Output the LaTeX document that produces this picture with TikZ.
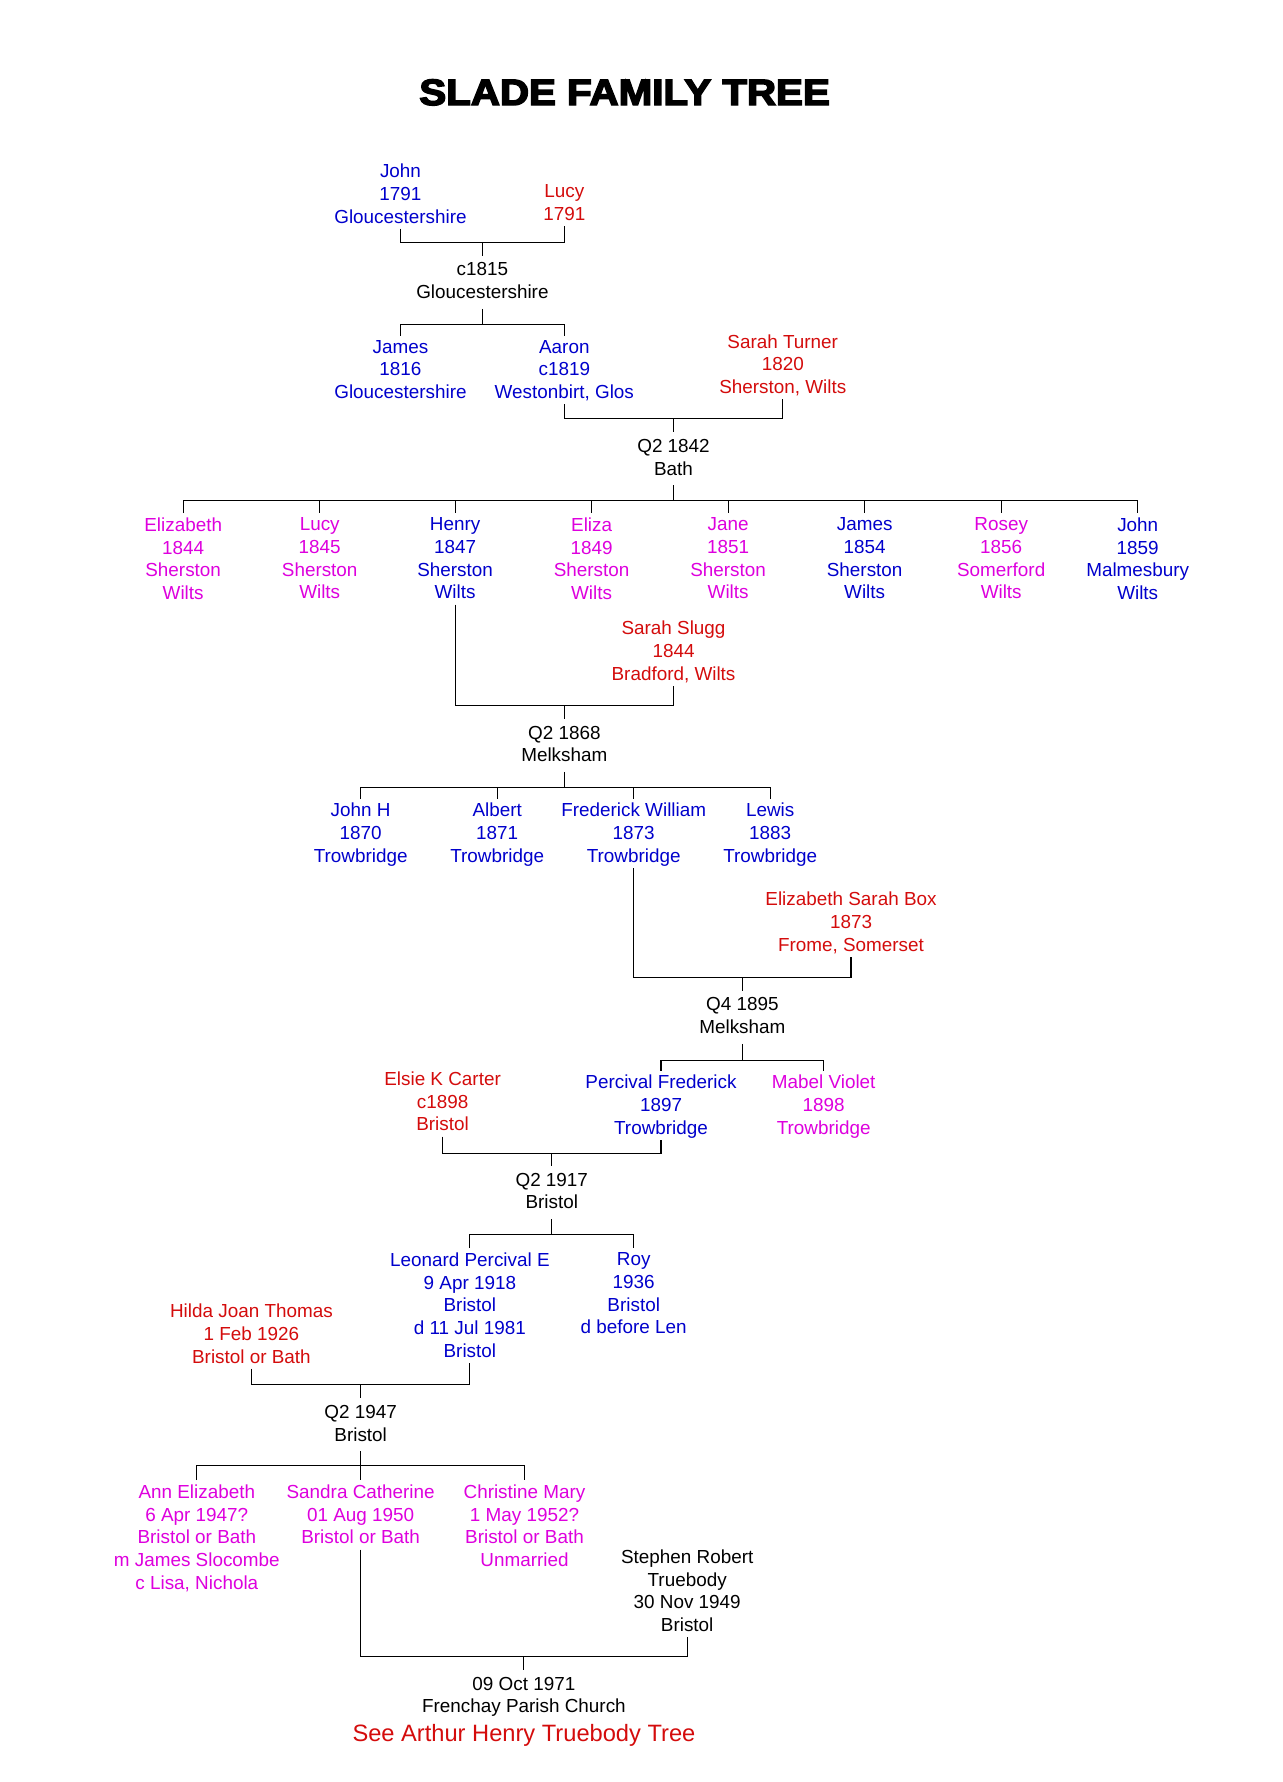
\documentclass[tikz,border=0pt]{standalone}
\usepackage{fontspec}
\setmainfont{Liberation Sans}
\newfontfamily\titlefam[FakeBold=4]{Liberation Sans Bold}
\definecolor{mblue}{RGB}{0,0,204}
\definecolor{fred}{RGB}{212,12,12}
\definecolor{fmag}{RGB}{222,0,222}
\newcommand{\txtfont}{\fontsize{8.3pt}{10pt}\selectfont}
\tikzset{
  person/.style={align=center, inner sep=0pt, outer sep=0pt, anchor=north, font=\txtfont,
    execute at begin node=\vphantom{l}, execute at end node=\vphantom{g}},
  male/.style={person, text=mblue},
  wife/.style={person, text=fred},
  daughter/.style={person, text=fmag},
  event/.style={person, text=black},
  link/.style={draw=black, line width=0.5pt},
  couple/.style={link, shorten <=0.75pt, shorten >=0.75pt},
  tochild/.style={link, shorten >=2pt},
  kids/.style={link, shorten <=2pt, shorten >=2pt},
  down/.style={link, shorten >=3pt},
  from/.style={link, shorten <=2.75pt},
}
\begin{document}
\begin{tikzpicture}[x=0.5pt, y=-0.5pt]
\fill[white] (0,0) rectangle (1127.7,1566.3);
\useasboundingbox (0,0) rectangle (1127.7,1566.3);

\node[anchor=base, inner sep=0pt, font=\titlefam\fontsize{16.1pt}{19pt}\selectfont] (title) at (549,92.3) {\scalebox{1.1}[1]{SLADE FAMILY TREE}};

% generation 1
\node[male] (john) at (352,144) {John\\1791\\Gloucestershire};
\node[wife] (lucy) at (496,162) {Lucy\\1791};
\coordinate (m1) at (424,213);
\draw[couple] (john.south) |- (m1) -| (lucy.south);
\node[event] (mar1) at (424,231) {c1815\\Gloucestershire};
\draw[down] (m1) -- (mar1.north);
\coordinate (k1) at (424,285);
\draw[from] (mar1.south) -- (k1);

% generation 2
\node[male] (james) at (352,299) {James\\1816\\Gloucestershire};
\node[male] (aaron) at (496,299) {Aaron\\c1819\\Westonbirt, Glos};
\draw[kids] (james.north) |- (k1) -| (aaron.north);
\node[wife] (sarahT) at (688,294) {Sarah Turner\\1820\\Sherston, Wilts};
\coordinate (m2) at (592,368);
\draw[couple] (aaron.south) |- (m2) -| (sarahT.south);
\node[event] (mar2) at (592,386) {Q2 1842\\Bath};
\draw[down] (m2) -- (mar2.north);
\coordinate (k2) at (592,440);
\draw[from] (mar2.south) -- (k2);

% generation 3
\node[daughter] (eliz) at (161,455) {Elizabeth\\1844\\Sherston\\Wilts};
\node[daughter] (lucyb) at (281,455) {Lucy\\1845\\Sherston\\Wilts};
\node[male] (henry) at (400,455) {Henry\\1847\\Sherston\\Wilts};
\node[daughter] (eliza) at (520,455) {Eliza\\1849\\Sherston\\Wilts};
\node[daughter] (jane) at (640,455) {Jane\\1851\\Sherston\\Wilts};
\node[male] (jamesb) at (760,455) {James\\1854\\Sherston\\Wilts};
\node[daughter] (rosey) at (880,455) {Rosey\\1856\\Somerford\\Wilts};
\node[male] (johnb) at (1000,455) {John\\1859\\Malmesbury\\Wilts};
\draw[kids] (eliz.north) |- (k2) -| (johnb.north);
\foreach \c in {lucyb,henry,eliza,jane,jamesb,rosey}
  \draw[tochild] (k2 -| \c.north) -- (\c.north);

\node[wife] (sarahS) at (592,546) {Sarah Slugg\\1844\\Bradford, Wilts};
\coordinate (m3) at (496,620);
\draw[couple] (henry.south) |- (m3) -| (sarahS.south);
\node[event] (mar3) at (496,638) {Q2 1868\\Melksham};
\draw[down] (m3) -- (mar3.north);
\coordinate (k3) at (496,692);
\draw[from] (mar3.south) -- (k3);

% generation 4
\node[male] (johnH) at (317,706) {John H\\1870\\Trowbridge};
\node[male] (albert) at (437,706) {Albert\\1871\\Trowbridge};
\node[male] (fred) at (557,706) {Frederick William\\1873\\Trowbridge};
\node[male] (lewis) at (677,706) {Lewis\\1883\\Trowbridge};
\draw[kids] (johnH.north) |- (k3) -| (lewis.north);
\foreach \c in {albert,fred}
  \draw[tochild] (k3 -| \c.north) -- (\c.north);

\node[wife] (esb) at (748,784) {Elizabeth Sarah Box\\1873\\Frome, Somerset};
\coordinate (m4) at (652.5,859);
\draw[couple] (fred.south) |- (m4) -| (esb.south);
\node[event] (mar4) at (652.5,877) {Q4 1895\\Melksham};
\draw[down] (m4) -- (mar4.north);
\coordinate (k4) at (652.5,932);
\draw[from] (mar4.south) -- (k4);

% generation 5
\node[male] (perc) at (581,945) {Percival Frederick\\1897\\Trowbridge};
\node[daughter] (mabel) at (724,945) {Mabel Violet\\1898\\Trowbridge};
\draw[kids] (perc.north) |- (k4) -| (mabel.north);
\node[wife] (elsie) at (389,942) {Elsie K Carter\\c1898\\Bristol};
\coordinate (m5) at (485,1014);
\draw[couple] (elsie.south) |- (m5) -| (perc.south);
\node[event] (mar5) at (485,1031) {Q2 1917\\Bristol};
\draw[down] (m5) -- (mar5.north);
\coordinate (k5) at (485,1085);
\draw[from] (mar5.south) -- (k5);

% generation 6
\node[male] (leon) at (413,1101) {Leonard Percival E\\9 Apr 1918\\Bristol\\d 11 Jul 1981\\Bristol};
\node[male] (roy) at (557,1101) {Roy\\1936\\Bristol\\d before Len};
\draw[kids] (leon.north) |- (k5) -| (roy.north);
\node[wife] (hilda) at (221,1146) {Hilda Joan Thomas\\1 Feb 1926\\Bristol or Bath};
\coordinate (m6) at (317,1217);
\draw[couple] (hilda.south) |- (m6) -| (leon.south);
\node[event] (mar6) at (317,1235) {Q2 1947\\Bristol};
\draw[down] (m6) -- (mar6.north);
\coordinate (k6) at (317,1288);
\draw[from] (mar6.south) -- (k6);

% generation 7
\node[daughter] (ann) at (173,1305) {Ann Elizabeth\\6 Apr 1947?\\Bristol or Bath\\m James Slocombe\\c Lisa, Nichola};
\node[daughter] (sandra) at (317,1305) {Sandra Catherine\\01 Aug 1950\\Bristol or Bath};
\node[daughter] (christine) at (461,1305) {Christine Mary\\1 May 1952?\\Bristol or Bath\\Unmarried};
\draw[kids] (ann.north) |- (k6) -| (christine.north);
\draw[tochild] (k6 -| sandra.north) -- (sandra.north);
\node[event] (stephen) at (604,1362) {Stephen Robert\\Truebody\\30 Nov 1949\\Bristol};
\coordinate (m7) at (460.5,1456);
\draw[couple] (sandra.south) |- (m7) -| (stephen.south);
\node[event] (mar7) at (460.5,1474) {09 Oct 1971\\Frenchay Parish Church};
\draw[down] (m7) -- (mar7.north);

\node[anchor=base, inner sep=0pt, text=fred, font=\fontsize{10.4pt}{12pt}\selectfont] (see) at (460.5,1531) {See Arthur Henry Truebody Tree};
\end{tikzpicture}
\end{document}
